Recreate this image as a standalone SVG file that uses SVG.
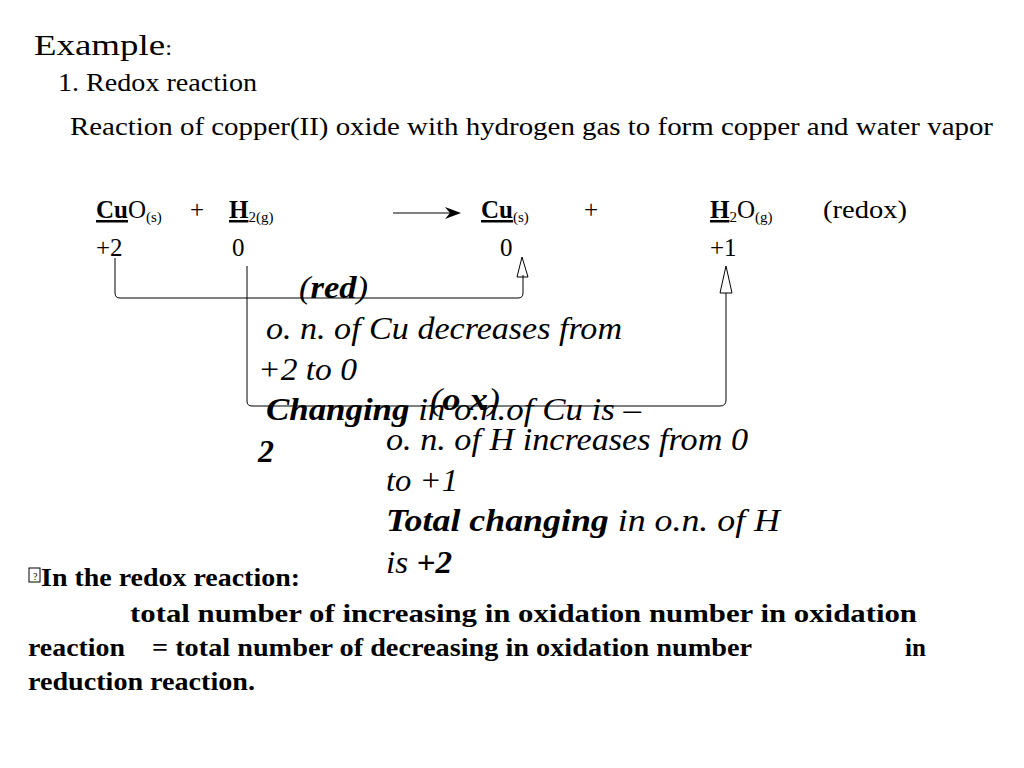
<svg xmlns="http://www.w3.org/2000/svg" width="1024" height="768" viewBox="0 0 1024 768">
<style>
text{font-family:"Liberation Serif","Times New Roman",serif;fill:#000}
.eq{font-size:25px}
.sub{font-size:15px}
.it{font-size:32px;font-style:italic}
.b{font-size:25px;font-weight:bold}
.ln{fill:none;stroke:#000;stroke-width:1}
</style>
<rect width="1024" height="768" fill="#fff"/>
<g id="header">
<text x="34" y="55" font-size="30" textLength="138" lengthAdjust="spacingAndGlyphs">Example<tspan font-size="20">:</tspan></text>
<text x="58" y="91" font-size="25" textLength="199" lengthAdjust="spacingAndGlyphs">1. Redox reaction</text>
<text x="70" y="135" font-size="25" textLength="923" lengthAdjust="spacingAndGlyphs">Reaction of copper(II) oxide  with hydrogen gas to form copper  and water vapor</text>
</g>
<g id="equation">
<text x="96" y="218" class="eq"><tspan font-weight="bold" text-decoration="underline">Cu</tspan>O<tspan class="sub" dy="4">(s)</tspan></text>
<text x="190" y="218" class="eq">+</text>
<text x="229" y="218" class="eq"><tspan font-weight="bold" text-decoration="underline">H</tspan><tspan class="sub" dy="4">2(g)</tspan></text>
<text x="481" y="218" class="eq"><tspan font-weight="bold" text-decoration="underline">Cu</tspan><tspan class="sub" dy="4">(s)</tspan></text>
<text x="584" y="218" class="eq">+</text>
<text x="710" y="218" class="eq"><tspan font-weight="bold" text-decoration="underline">H</tspan><tspan class="sub" dy="4">2</tspan><tspan dy="-4">O</tspan><tspan class="sub" dy="4">(g)</tspan></text>
<text x="823" y="218" class="eq" textLength="84" lengthAdjust="spacingAndGlyphs">(redox)</text>
<text x="96" y="256" class="eq">+2</text>
<text x="232" y="256" class="eq">0</text>
<text x="500" y="256" class="eq">0</text>
<text x="710" y="256" class="eq">+1</text>
</g>
<g id="connectors">
<line class="ln" x1="393" y1="213" x2="455" y2="213" stroke-width="1.5"/>
<path d="M445,207 L461,213 L445,219 L450,213 Z" fill="#000"/>
<path class="ln" d="M115,258 V293 Q115,298 120,298 H518 Q523,298 523,293 V275"/>
<path class="ln" d="M517,277 L522,257 L528,277 Z" fill="#fff"/>
<path class="ln" d="M247,266 V401 Q247,406 252,406 H720 Q726,406 726,400 V293"/>
<path class="ln" d="M720,293 L726,266 L732,293 Z" fill="#fff"/>
</g>
<g id="red-label">
<text x="299" y="298" class="it" textLength="69" lengthAdjust="spacingAndGlyphs">(<tspan font-weight="bold">red</tspan>)</text>
<text x="266" y="339" class="it" textLength="356" lengthAdjust="spacingAndGlyphs">o. n. of Cu decreases from</text>
<text x="258" y="380" class="it" textLength="99" lengthAdjust="spacingAndGlyphs">+2 to 0</text>
<text x="266" y="420" class="it" textLength="375" lengthAdjust="spacingAndGlyphs"><tspan font-weight="bold">Changing</tspan> in  o.n.of Cu is –</text>
<text x="258" y="462" class="it" font-weight="bold">2</text>
</g>
<g id="ox-label">
<text x="430" y="410" class="it" textLength="70" lengthAdjust="spacingAndGlyphs">(<tspan font-weight="bold">o x</tspan>)</text>
<text x="386" y="450" class="it" textLength="362" lengthAdjust="spacingAndGlyphs">o. n. of H increases from 0</text>
<text x="386" y="491" class="it" textLength="72" lengthAdjust="spacingAndGlyphs">to +1</text>
<text x="386" y="531" class="it" textLength="394" lengthAdjust="spacingAndGlyphs"><tspan font-weight="bold">Total changing</tspan> in   o.n. of H</text>
<text x="386" y="573" class="it" textLength="66" lengthAdjust="spacingAndGlyphs">is <tspan font-weight="bold">+2</tspan></text>
</g>
<g id="summary">
<rect x="29" y="568" width="11" height="14" fill="none" stroke="#000" stroke-width="1"/>
<text x="33" y="580" font-size="10">?</text>
<text x="41" y="586" class="b" textLength="259" lengthAdjust="spacingAndGlyphs">In the redox reaction:</text>
<text x="130" y="622" class="b" textLength="787" lengthAdjust="spacingAndGlyphs">total  number  of  increasing  in  oxidation  number  in  oxidation</text>
<text x="28" y="656" class="b" textLength="97" lengthAdjust="spacingAndGlyphs">reaction</text>
<text x="152" y="656" class="b" textLength="600" lengthAdjust="spacingAndGlyphs">= total number of decreasing in oxidation number</text>
<text x="905" y="656" class="b">in</text>
<text x="28" y="690" class="b" textLength="227" lengthAdjust="spacingAndGlyphs">reduction reaction.</text>
</g>
</svg>
